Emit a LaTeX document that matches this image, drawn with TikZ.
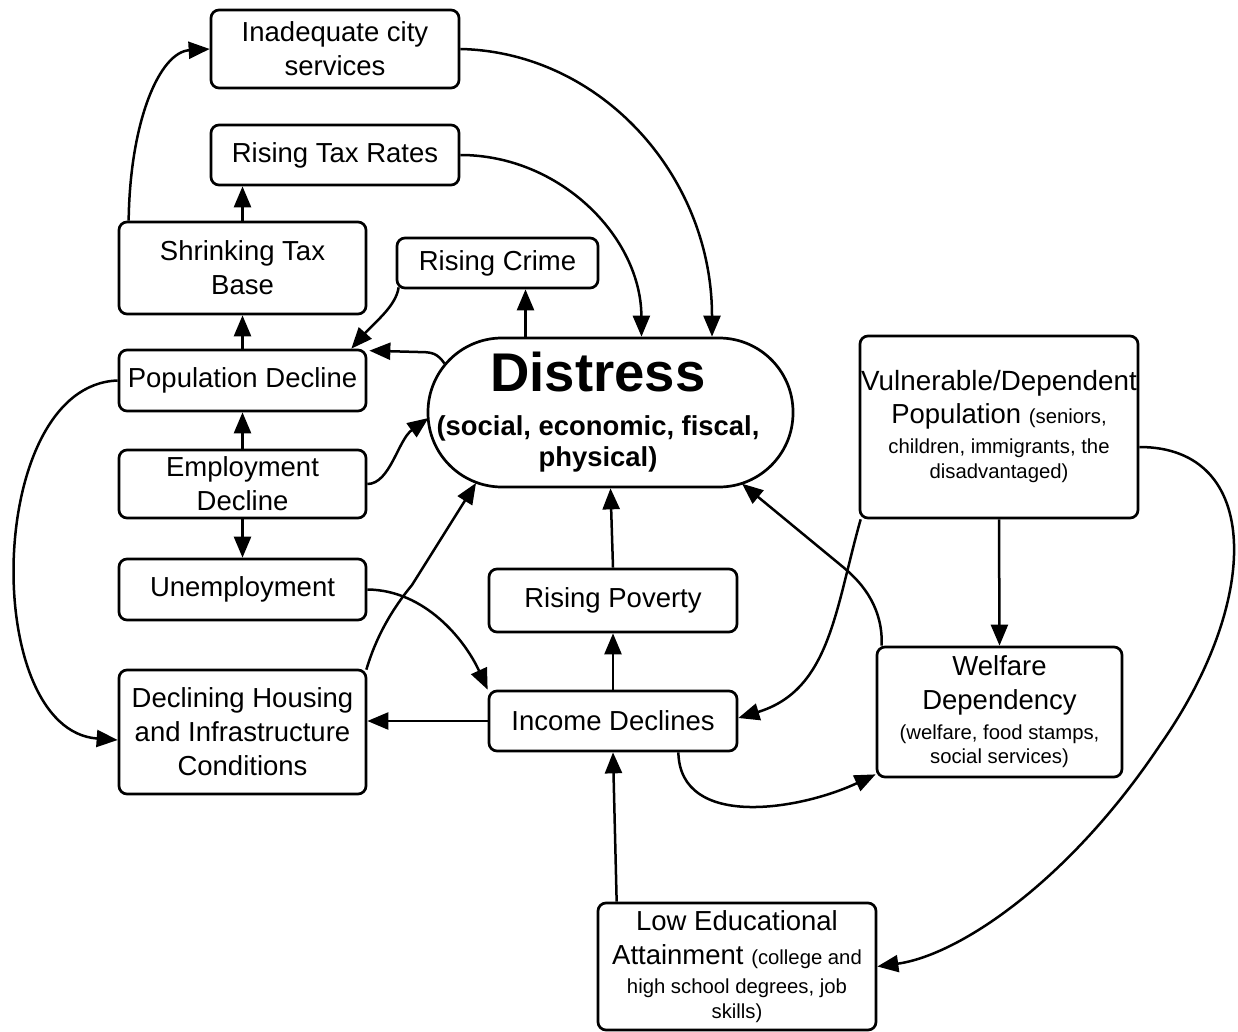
\documentclass[tikz,border=0pt]{standalone}
\usepackage{fontspec}
\setmainfont{Liberation Sans}
\usetikzlibrary{arrows.meta,calc}
\newcommand{\smtext}[1]{{\fontsize{20.3}{24}\selectfont #1}}
\begin{document}
\begin{tikzpicture}[x=1pt,y=-1pt,
 box/.style={draw, line width=2.7pt, rounded corners=8pt, inner sep=0pt, align=center, font=\fontsize{27.5}{34}\selectfont},
 arr/.style={line width=2.5pt, -{Triangle[length=21pt,width=17pt]}},
]
\useasboundingbox (0,0) rectangle (1238,1032);
% nodes
\node[box, minimum width=248pt, minimum height=78pt] (inad) at (335,49) {Inadequate city\\services};
\node[box, minimum width=248pt, minimum height=60pt] (taxr) at (335,155) {Rising Tax Rates};
\node[box, minimum width=247pt, minimum height=92pt] (shrink) at (242.5,268) {Shrinking Tax\\Base};
\node[box, minimum width=201pt, minimum height=50pt] (crime) at (497.5,263) {Rising Crime};
\node[box, minimum width=247pt, minimum height=61pt] (pop) at (242.5,380.5) {Population Decline};
\node[box, minimum width=247pt, minimum height=68pt] (emp) at (242.5,484) {Employment\\Decline};
\node[box, minimum width=247pt, minimum height=61pt] (unemp) at (242.5,589.5) {Unemployment};
\node[box, minimum width=247pt, minimum height=124pt] (housing) at (242.5,732) {Declining Housing\\and Infrastructure\\Conditions};
\node[box, minimum width=248pt, minimum height=63pt] (poverty) at (613,600.5) {Rising Poverty};
\node[box, minimum width=248pt, minimum height=60pt] (income) at (613,721) {Income Declines};
\node[box, minimum width=278pt, minimum height=182pt] (vuln) at (999,427)
  {{\fontsize{27.8}{34}\selectfont Vulnerable/Dependent}\\[-1pt]Population \smtext{(seniors,}\\[-4pt]\smtext{children, immigrants, the}\\[-9pt]\smtext{disadvantaged)}};
\node[box, minimum width=245pt, minimum height=130pt] (welfare) at (999.5,712)
  {Welfare\\Dependency\\[-4pt]\smtext{(welfare, food stamps,}\\[-10pt]\smtext{social services)}};
\node[box, minimum width=278pt, minimum height=127pt] (lowed) at (737,966.5)
  {Low Educational\\Attainment \smtext{(college and}\\[-5pt]\smtext{high school degrees, job}\\[-9pt]\smtext{skills)}};
\node[draw, line width=2.7pt, rounded corners=74pt, minimum width=365pt, minimum height=149pt, inner sep=0pt] (distress) at (610.5,412.5) {};
\node[align=center, inner sep=0pt, font=\fontsize{27.4}{34}\selectfont\bfseries] (distresstext) at ($(distress.center)+(-12.5,0)$)
  {{\fontsize{54.5}{60}\selectfont Distress}\\[10pt](social, economic, fiscal,\\[-3pt]physical)};
% connectors
\draw[arr] ($(shrink.north west)+(11,0)$) .. controls (130,120) and (160,52) .. (inad.west);
\draw[arr] (shrink.north) -- (shrink.north |- taxr.south);
\draw[arr] (pop.north) -- (shrink.south);
\draw[arr] (emp.north) -- (pop.south);
\draw[arr] (emp.south) -- (unemp.north);
\draw[arr] (inad.east) .. controls (600,52) and (712,175) .. ($(distress.north)+(101.5,0)$);
\draw[arr] (taxr.east) .. controls (560,155) and (641,237) .. ($(distress.north)+(31,0)$);
\coordinate (dtop) at ($(distress.north)+(-85,0)$);
\draw[arr] (dtop) -- (dtop |- crime.south);
\draw[arr] ($(crime.south west)+(3,-2)$) .. controls (396,306) and (375,322) .. ($(pop.north east)+(-16,0)$);
\draw[arr] ($(distress.center)+(-166,-49)$) .. controls (437,353) and (432,352) .. (418,352) -- ($(pop.north east)+(2,2)$);
\draw[arr] (emp.east) .. controls (390,484) and (398,440) .. ($(distress.center)+(-182,5.5)$);
\draw[arr] (pop.west) .. controls (-15,385) and (-20,730) .. ($(housing.west)+(0,8)$);
\draw[arr] (unemp.east) .. controls (425,590) and (465,640) .. (income.north west);
\draw[arr] ($(housing.north east)+(-1,1)$) .. controls (378,630) and (398,602) .. (412,585) -- ($(distress.center)+(-134.5,70.5)$);
\draw[arr] (income.west) -- (income.west -| housing.east);
\draw[arr] (income.north) -- (poverty.south);
\draw[arr] (poverty.north) -- (distress.south);
\draw[arr] ($(lowed.north west)+(20,0)$) -- (income.south);
\draw[arr] ($(income.south east)+(-60,0)$) .. controls (680,830) and (800,810) .. ($(welfare.south west)+(0,-4)$);
\draw[arr] (vuln.south) -- (welfare.north);
\draw[arr] ($(vuln.south west)+(2,0)$) .. controls (835,610) and (830,690) .. ($(income.east)+(0,-3)$);
\draw[arr] ($(welfare.north west)+(6,0)$) .. controls (883,610) and (865,585) .. (843,567) -- ($(distress.center)+(131.5,71.2)$);
\draw[arr] ($(vuln.east)+(0,20)$) .. controls (1262,447) and (1262,600) .. (1160,745) .. controls (1070,880) and (960,955) .. (lowed.east);
\end{tikzpicture}
\end{document}
